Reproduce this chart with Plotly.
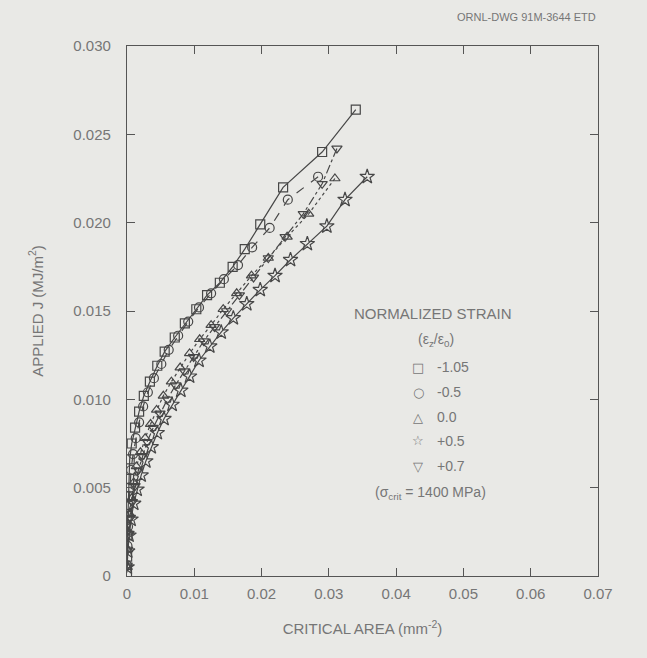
import plotly.graph_objects as go

# Critical area (mm^-2) and applied J (MJ/m^2) for each normalized strain
sq_x = [0.0340, 0.0290, 0.0232, 0.0198, 0.0175, 0.0157, 0.0138, 0.0119, 0.0103, 0.0086, 0.0071, 0.0056, 0.0045, 0.0034, 0.0025, 0.0018, 0.0012, 0.0007, 0.0004, 0.0003, 0.00015, 0.0001, 0.00005, 0.00002, 0.0]
sq_y = [0.0264, 0.0240, 0.0220, 0.0199, 0.0185, 0.0175, 0.0166, 0.0159, 0.0151, 0.0143, 0.0135, 0.0127, 0.0119, 0.0110, 0.0102, 0.0093, 0.0084, 0.0075, 0.0066, 0.0055, 0.0045, 0.0034, 0.0023, 0.0011, 0.0002]

ci_x = [0.0284, 0.0239, 0.0212, 0.0186, 0.0165, 0.0144, 0.0125, 0.0107, 0.0091, 0.0076, 0.0062, 0.0051, 0.0040, 0.0031, 0.0024, 0.0018, 0.0013, 0.0009, 0.0006, 0.0004, 0.0003, 0.00015, 0.00007, 0.00002]
ci_y = [0.0226, 0.0213, 0.0197, 0.0186, 0.0176, 0.0168, 0.0160, 0.0152, 0.0144, 0.0136, 0.0128, 0.0120, 0.0112, 0.0104, 0.0096, 0.0087, 0.0078, 0.0069, 0.0060, 0.0050, 0.0040, 0.0028, 0.0017, 0.0006]

tr_x = [0.0309, 0.0270, 0.0238, 0.0210, 0.0185, 0.0163, 0.0143, 0.0125, 0.0108, 0.0093, 0.0079, 0.0066, 0.0054, 0.0044, 0.0035, 0.0027, 0.0020, 0.0014, 0.0010, 0.0007, 0.0004, 0.0002, 0.0001, 0.00003]
tr_y = [0.0225, 0.0205, 0.0192, 0.0180, 0.0170, 0.0160, 0.0151, 0.0142, 0.0134, 0.0126, 0.0118, 0.0110, 0.0102, 0.0094, 0.0086, 0.0078, 0.0070, 0.0062, 0.0053, 0.0044, 0.0035, 0.0025, 0.0015, 0.0005]

st_x = [0.0357, 0.0324, 0.0297, 0.0268, 0.0243, 0.0220, 0.0198, 0.0178, 0.0158, 0.0140, 0.0123, 0.0107, 0.0093, 0.0080, 0.0067, 0.0055, 0.0045, 0.0036, 0.0028, 0.0021, 0.0015, 0.0010, 0.0006, 0.0003, 0.0001, 0.00003]
st_y = [0.0226, 0.0213, 0.0198, 0.0188, 0.0179, 0.0170, 0.0162, 0.0154, 0.0146, 0.0138, 0.0130, 0.0122, 0.0113, 0.0105, 0.0097, 0.0089, 0.0081, 0.0073, 0.0065, 0.0057, 0.0049, 0.0041, 0.0032, 0.0023, 0.0014, 0.0005]

it_x = [0.0312, 0.0290, 0.0262, 0.0235, 0.0210, 0.0188, 0.0167, 0.0148, 0.0130, 0.0114, 0.0099, 0.0085, 0.0072, 0.0060, 0.0049, 0.0039, 0.0030, 0.0023, 0.0017, 0.0012, 0.0008, 0.0005, 0.0003, 0.0001, 0.00003]
it_y = [0.0242, 0.0222, 0.0205, 0.0192, 0.0180, 0.0169, 0.0159, 0.0150, 0.0141, 0.0133, 0.0124, 0.0116, 0.0108, 0.0100, 0.0092, 0.0084, 0.0076, 0.0068, 0.0060, 0.0051, 0.0042, 0.0033, 0.0024, 0.0015, 0.0006]

strain_labels = ["-1.05", "-0.5", "0.0", "+0.5", "+0.7"]
legend_glyphs = ["\u25a1", "\u25cb", "\u25b3", "\u2606", "\u25bd"]

x_ticks = [0, 0.01, 0.02, 0.03, 0.04, 0.05, 0.06, 0.07]
x_tick_text = ["0", "0.01", "0.02", "0.03", "0.04", "0.05", "0.06", "0.07"]
y_ticks = [0, 0.005, 0.010, 0.015, 0.020, 0.025, 0.030]
y_tick_text = ["0", "0.005", "0.010", "0.015", "0.020", "0.025", "0.030"]

BG = "#e9e9e6"
INK = "#474747"
TXT = "#767676"
FONT = "Liberation Sans, Arial, sans-serif"

series = [
    (sq_x, sq_y, "square-open", "solid", 9),
    (ci_x, ci_y, "circle-open", "dash", 9),
    (tr_x, tr_y, "triangle-up-open", "dot", 9),
    (st_x, st_y, "star-open", "solid", 11),
    (it_x, it_y, "triangle-down-open", "dashdot", 9),
]

fig = go.Figure()
for (xs, ys, sym, dash, sz), lab in zip(series, strain_labels):
    fig.add_trace(go.Scatter(
        x=xs, y=ys, mode="lines+markers", name=lab,
        line=dict(color=INK, width=1.2, dash=dash),
        marker=dict(symbol=sym, size=sz, color=INK, line=dict(width=1.2, color=INK)),
        showlegend=False,
    ))

axis_common = dict(
    showgrid=False, zeroline=False, showline=True, linecolor="#555",
    linewidth=1.3, mirror="ticks", ticks="inside", ticklen=8,
    tickcolor="#555", tickwidth=1.2,
    tickfont=dict(family=FONT, size=15, color=TXT),
)

fig.update_layout(
    width=647, height=658,
    paper_bgcolor=BG, plot_bgcolor=BG,
    margin=dict(l=127, r=49, t=46, b=82),
    font=dict(family=FONT, color=TXT),
    xaxis=dict(range=[0, 0.07], tickvals=x_ticks, ticktext=x_tick_text,
               title=dict(text="CRITICAL AREA (mm<sup>-2</sup>)", standoff=22,
                          font=dict(family=FONT, size=15, color=TXT)),
               ticklabelstandoff=4, **axis_common),
    yaxis=dict(range=[0, 0.030], tickvals=y_ticks, ticktext=y_tick_text,
               title=dict(text="APPLIED J (MJ/m<sup>2</sup>)", standoff=26,
                          font=dict(family=FONT, size=15, color=TXT)),
               ticklabelstandoff=12, **axis_common),
)

def px_x(p):
    return (p - 127) / (598 - 127)

def px_y(p):
    return (576 - p) / (576 - 46)

ann = []
ann.append(dict(text="ORNL-DWG 91M-3644 ETD", x=px_x(598), y=px_y(17), xref="paper", yref="paper",
                xanchor="right", yanchor="middle", showarrow=False,
                font=dict(family=FONT, size=11, color=TXT)))
ann.append(dict(text="NORMALIZED STRAIN", x=px_x(433), y=px_y(313), xref="paper", yref="paper",
                xanchor="center", yanchor="middle", showarrow=False,
                font=dict(family=FONT, size=15, color=TXT)))
ann.append(dict(text="(\u03b5<sub>z</sub>/\u03b5<sub>0</sub>)", x=px_x(436), y=px_y(340),
                xref="paper", yref="paper", xanchor="center", yanchor="middle", showarrow=False,
                font=dict(family=FONT, size=14, color=TXT)))
rows_y = [367, 392, 417, 441, 466]
for g, lab, ry in zip(legend_glyphs, strain_labels, rows_y):
    ann.append(dict(text=g, x=px_x(418), y=px_y(ry), xref="paper", yref="paper",
                    xanchor="center", yanchor="middle", showarrow=False,
                    font=dict(family="DejaVu Sans", size=13, color=TXT)))
    ann.append(dict(text=lab, x=px_x(435), y=px_y(ry), xref="paper", yref="paper",
                    xanchor="left", yanchor="middle", showarrow=False,
                    font=dict(family=FONT, size=14, color=TXT)))
ann.append(dict(text="(\u03c3<sub>crit</sub> = 1400 MPa)", x=px_x(430), y=px_y(493),
                xref="paper", yref="paper", xanchor="center", yanchor="middle", showarrow=False,
                font=dict(family=FONT, size=14, color=TXT)))
fig.update_layout(annotations=ann)

fig.write_html("out.html")
